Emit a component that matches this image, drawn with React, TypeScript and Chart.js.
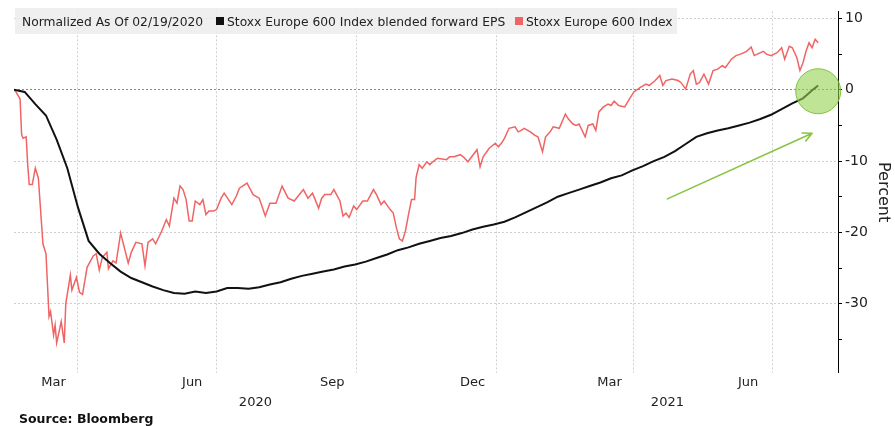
import React, { useEffect, useRef } from 'react';
import { Chart, registerables } from 'chart.js';

Chart.register(...registerables);

const FONT = '"DejaVu Sans", Verdana, sans-serif';

// ---- data (x = days since 2020-02-19, y = % change vs 2020-02-19) ----
const epsDays = [
  0, 7, 14, 21, 28, 35, 42, 49, 56, 63,
  70, 77, 84, 91, 98, 105, 112, 119, 126, 133,
  140, 147, 154, 161, 168, 175, 182, 189, 196, 203,
  210, 217, 224, 231, 238, 245, 252, 259, 266, 273,
  280, 287, 294, 301, 308, 315, 322, 329, 336, 343,
  350, 357, 364, 371, 378, 385, 392, 399, 406, 413,
  420, 427, 434, 441, 448, 455, 462, 469, 476, 483,
  490, 497, 504, 511, 518, 525, 528,
];
const epsValues = [
  0, -0.3, -2.0, -3.6, -7.0, -11.0, -16.5, -21.2, -23.0, -24.3,
  -25.5, -26.4, -27.0, -27.6, -28.1, -28.5, -28.6, -28.3, -28.5, -28.3,
  -27.8, -27.8, -27.9, -27.7, -27.3, -27.0, -26.5, -26.1, -25.8, -25.5,
  -25.2, -24.8, -24.5, -24.1, -23.6, -23.1, -22.5, -22.1, -21.6, -21.2,
  -20.8, -20.5, -20.1, -19.6, -19.2, -18.9, -18.5, -17.9, -17.2, -16.5,
  -15.8, -15.0, -14.5, -14.0, -13.5, -13.0, -12.4, -12.0, -11.3, -10.7,
  -10.0, -9.4, -8.6, -7.6, -6.6, -6.1, -5.7, -5.4, -5.0, -4.6,
  -4.1, -3.5, -2.7, -1.9, -1.2, 0.1, 0.6,
];

const indexDays = [
  0, 1, 4, 5, 6, 8, 9, 10, 12, 14,
  16, 19, 21, 23, 24, 26, 27, 28, 31, 33,
  34, 37, 38, 41, 43, 45, 48, 52, 54, 56,
  58, 61, 62, 65, 67, 70, 75, 77, 80, 84,
  86, 88, 91, 93, 97, 100, 102, 105, 107, 109,
  111, 113, 115, 117, 119, 122, 124, 126, 128, 131,
  133, 136, 138, 143, 146, 148, 153, 157, 161, 165,
  168, 172, 176, 180, 184, 188, 190, 193, 196, 200,
  202, 204, 208, 210, 214, 216, 218, 220, 223, 225,
  229, 232, 236, 238, 241, 243, 247, 249, 251, 253,
  255, 257, 259, 261, 263, 264, 266, 268, 271, 273,
  275, 278, 284, 286, 289, 293, 295, 298, 304, 306,
  308, 312, 316, 318, 320, 322, 325, 329, 331, 333,
  335, 339, 342, 344, 347, 349, 352, 354, 358, 362,
  364, 367, 369, 371, 375, 377, 380, 382, 384, 387,
  390, 392, 394, 397, 401, 404, 407, 411, 415, 417,
  421, 424, 426, 428, 432, 436, 438, 441, 444, 446,
  448, 450, 453, 456, 459, 462, 465, 467, 471, 474,
  477, 481, 484, 486, 488, 492, 494, 497, 501, 504,
  506, 509, 511, 514, 516, 518, 520, 522, 524, 526,
  528,
];
const indexValues = [
  0.0, -0.2, -1.3, -6.3, -6.8, -6.6, -10.5, -13.3, -13.3, -11.0,
  -12.4, -21.6, -23.0, -31.8, -31.1, -34.4, -33.0, -35.5, -32.5, -35.5,
  -30.0, -26.0, -28.1, -26.3, -28.4, -28.7, -24.9, -23.3, -23.0, -25.3,
  -23.5, -22.8, -25.1, -24.0, -24.3, -20.1, -24.3, -22.8, -21.4, -21.6,
  -24.7, -21.4, -20.9, -21.6, -19.8, -18.2, -19.1, -15.2, -15.9, -13.5,
  -14.0, -15.4, -18.4, -18.4, -15.6, -16.1, -15.4, -17.5, -17.0, -17.0,
  -16.8, -15.2, -14.5, -16.1, -14.9, -13.8, -13.1, -14.7, -15.2, -17.7,
  -15.9, -15.9, -13.5, -15.2, -15.6, -14.5, -14.0, -15.2, -14.5, -16.6,
  -15.2, -14.7, -14.7, -14.0, -15.6, -17.7, -17.3, -17.9, -16.3, -16.8,
  -15.6, -15.6, -14.0, -14.7, -16.1, -15.6, -16.8, -17.3, -19.3, -20.9,
  -21.2, -19.8, -17.5, -15.4, -15.4, -12.3, -10.5, -11.0, -10.1, -10.5,
  -10.1, -9.6, -9.8, -9.4, -9.4, -9.1, -9.4, -10.1, -8.4, -10.8,
  -9.4, -8.2, -7.5, -8.0, -7.5, -6.8, -5.4, -5.2, -5.9, -5.7,
  -5.4, -5.9, -6.4, -6.6, -8.7, -6.6, -5.9, -5.2, -5.4, -3.4,
  -4.1, -4.8, -5.0, -4.8, -6.6, -5.0, -4.8, -5.7, -3.1, -2.4,
  -2.0, -2.2, -1.6, -2.2, -2.4, -1.3, -0.3, 0.3, 0.8, 0.6,
  1.3, 2.0, 0.6, 1.3, 1.5, 1.3, 1.0, 0.1, 2.2, 2.7,
  0.8, 1.0, 2.2, 0.8, 2.7, 2.9, 3.4, 3.1, 4.3, 4.8,
  5.0, 5.4, 6.0, 4.8, 5.0, 5.4, 5.0, 4.8, 5.2, 5.9,
  4.3, 6.1, 5.9, 4.5, 2.7, 3.8, 5.4, 6.6, 5.9, 7.1,
  6.6,
];

// ---- axes ----
const quarterGridDays = [42, 133, 225, 317, 407, 498]; // Apr 1, Jul 1, Oct 1, Jan 1, Apr 1, Jul 1
const monthTickDays = [26, 117, 209, 301, 391, 482];
const monthTickLabels = ['Mar', 'Jun', 'Sep', 'Dec', 'Mar', 'Jun'];
const yearTickDays = [158.5, 429];
const yearTickLabels = ['2020', '2021'];
const yTickValues = [10, 5, 0, -5, -10, -15, -20, -25, -30, -35];
const X_MIN = 0;
const X_MAX = 541;
const Y_MIN = -39.7;
const Y_MAX = 11;

// ---- annotations (data space) ----
const circleCenter = [528, -0.2];
const arrowStart = [429, -15.3];
const arrowEnd = [524, -6.1];

// ---- text ----
const legendNote = 'Normalized As Of 02/19/2020';
const seriesLabels = ['Stoxx Europe 600 Index blended forward EPS', 'Stoxx Europe 600 Index'];
const yTitle = 'Percent';
const sourceText = 'Source: Bloomberg';

const BLACK = '#111111';
const RED = '#f06464';
const GREEN = '#86c440';

const annotationPlugin = {
  id: 'annotations',
  afterDatasetsDraw(chart: any) {
    const { ctx, scales } = chart;
    const xs = scales.x;
    const ys = scales.y;
    ctx.save();
    const cx = xs.getPixelForValue(circleCenter[0]);
    const cy = ys.getPixelForValue(circleCenter[1]);
    ctx.beginPath();
    ctx.arc(cx, cy, 22.5, 0, Math.PI * 2);
    ctx.fillStyle = 'rgba(150, 210, 80, 0.6)';
    ctx.fill();
    ctx.lineWidth = 1;
    ctx.strokeStyle = 'rgba(120, 190, 50, 0.9)';
    ctx.stroke();

    const x1 = xs.getPixelForValue(arrowStart[0]);
    const y1 = ys.getPixelForValue(arrowStart[1]);
    const x2 = xs.getPixelForValue(arrowEnd[0]);
    const y2 = ys.getPixelForValue(arrowEnd[1]);
    ctx.strokeStyle = GREEN;
    ctx.lineWidth = 1.6;
    ctx.lineCap = 'round';
    ctx.beginPath();
    ctx.moveTo(x1, y1);
    ctx.lineTo(x2, y2);
    const ang = Math.atan2(y2 - y1, x2 - x1);
    const head = 10;
    ctx.moveTo(x2, y2);
    ctx.lineTo(x2 - head * Math.cos(ang - 0.45), y2 - head * Math.sin(ang - 0.45));
    ctx.moveTo(x2, y2);
    ctx.lineTo(x2 - head * Math.cos(ang + 0.45), y2 - head * Math.sin(ang + 0.45));
    ctx.stroke();
    ctx.restore();
  },
};

export default function App() {
  const ref = useRef<HTMLCanvasElement>(null);

  useEffect(() => {
    const canvas = ref.current;
    if (!canvas) return;
    Chart.defaults.font.family = FONT;
    const chart = new Chart(canvas, {
      type: 'line',
      data: {
        datasets: [
          {
            label: seriesLabels[0],
            data: epsDays.map((d, i) => ({ x: d, y: epsValues[i] })),
            borderColor: BLACK,
            borderWidth: 2,
            pointRadius: 0,
            tension: 0,
            xAxisID: 'x',
            yAxisID: 'y',
          },
          {
            label: seriesLabels[1],
            data: indexDays.map((d, i) => ({ x: d, y: indexValues[i] })),
            borderColor: RED,
            borderWidth: 1.5,
            pointRadius: 0,
            tension: 0,
            xAxisID: 'x',
            yAxisID: 'y',
          },
        ],
      },
      options: {
        animation: false,
        responsive: false,
        maintainAspectRatio: false,
        devicePixelRatio: 1,
        layout: { padding: { left: 14, top: 8, right: 0, bottom: 14 } },
        plugins: { legend: { display: false }, tooltip: { enabled: false } },
        scales: {
          x: {
            type: 'linear',
            axis: 'x',
            position: 'bottom',
            weight: 0,
            min: X_MIN,
            max: X_MAX,
            afterBuildTicks: (s: any) => {
              s.ticks = quarterGridDays.map((v) => ({ value: v }));
            },
            ticks: { display: false },
            grid: { color: '#cfcfcf', lineWidth: 1, drawTicks: false },
            border: { display: false, dash: [2, 2] },
          },
          xm: {
            type: 'linear',
            axis: 'x',
            position: 'bottom',
            weight: 1,
            min: X_MIN,
            max: X_MAX,
            afterBuildTicks: (s: any) => {
              s.ticks = monthTickDays.map((v) => ({ value: v }));
            },
            ticks: {
              autoSkip: false,
              maxRotation: 0,
              padding: 2,
              color: '#222',
              font: { family: FONT, size: 13 },
              callback: (_v: any, i: number) => monthTickLabels[i],
            },
            grid: { display: false, drawTicks: false },
            border: { display: false },
          },
          xy: {
            type: 'linear',
            axis: 'x',
            position: 'bottom',
            weight: 2,
            min: X_MIN,
            max: X_MAX,
            afterBuildTicks: (s: any) => {
              s.ticks = yearTickDays.map((v) => ({ value: v }));
            },
            ticks: {
              autoSkip: false,
              maxRotation: 0,
              padding: 2,
              color: '#222',
              font: { family: FONT, size: 13 },
              callback: (_v: any, i: number) => yearTickLabels[i],
            },
            grid: { display: false, drawTicks: false },
            border: { display: false },
          },
          y: {
            type: 'linear',
            position: 'right',
            min: Y_MIN,
            max: Y_MAX,
            afterBuildTicks: (s: any) => {
              s.ticks = yTickValues.map((v) => ({ value: v }));
            },
            afterFit: (s: any) => {
              s.width = 57;
            },
            ticks: {
              padding: 3,
              color: '#222',
              font: { family: FONT, size: 14 },
              callback: (v: any) => (Number(v) % 10 === 0 ? String(v) : ''),
            },
            grid: {
              color: (c: any) => {
                const v = c.tick ? c.tick.value : 1;
                if (v % 10 !== 0) return 'rgba(0,0,0,0)';
                return v === 0 ? '#8a8a8a' : '#cfcfcf';
              },
              lineWidth: 1,
              tickColor: '#000',
              tickLength: 4,
              tickBorderDash: [],
            },
            border: { display: true, color: '#000', width: 1, dash: [2, 2] },
            title: {
              display: true,
              text: yTitle,
              color: '#222',
              font: { family: FONT, size: 16 },
              padding: { top: 2, bottom: 0 },
            },
          },
        },
      },
      plugins: [annotationPlugin],
    } as any);
    return () => chart.destroy();
  }, []);

  const legendText: React.CSSProperties = {
    position: 'absolute',
    top: 7.5,
    fontFamily: FONT,
    fontSize: 12.3,
    lineHeight: '12.3px',
    color: '#222',
    whiteSpace: 'nowrap',
  };
  const swatch: React.CSSProperties = {
    position: 'absolute',
    top: 9,
    width: 8,
    height: 8,
  };

  return (
    <div style={{ position: 'absolute', left: 0, top: 0, width: 895, height: 426, background: '#fff', overflow: 'hidden' }}>
      <canvas ref={ref} width={895} height={426} style={{ display: 'block', width: 895, height: 426 }} />
      <div
        style={{
          position: 'absolute',
          left: 15,
          top: 8,
          width: 662,
          height: 26,
          background: 'rgba(236,236,236,0.82)',
        }}
      >
        <span style={{ ...legendText, left: 7 }}>{legendNote}</span>
        <span style={{ ...swatch, left: 201, background: BLACK }} />
        <span style={{ ...legendText, left: 212 }}>{seriesLabels[0]}</span>
        <span style={{ ...swatch, left: 500, background: RED }} />
        <span style={{ ...legendText, left: 511 }}>{seriesLabels[1]}</span>
      </div>
      <div
        style={{
          position: 'absolute',
          left: 19,
          top: 413,
          fontFamily: FONT,
          fontWeight: 'bold',
          fontSize: 12.5,
          lineHeight: '12.5px',
          color: '#111',
          whiteSpace: 'nowrap',
        }}
      >
        {sourceText}
      </div>
    </div>
  );
}
